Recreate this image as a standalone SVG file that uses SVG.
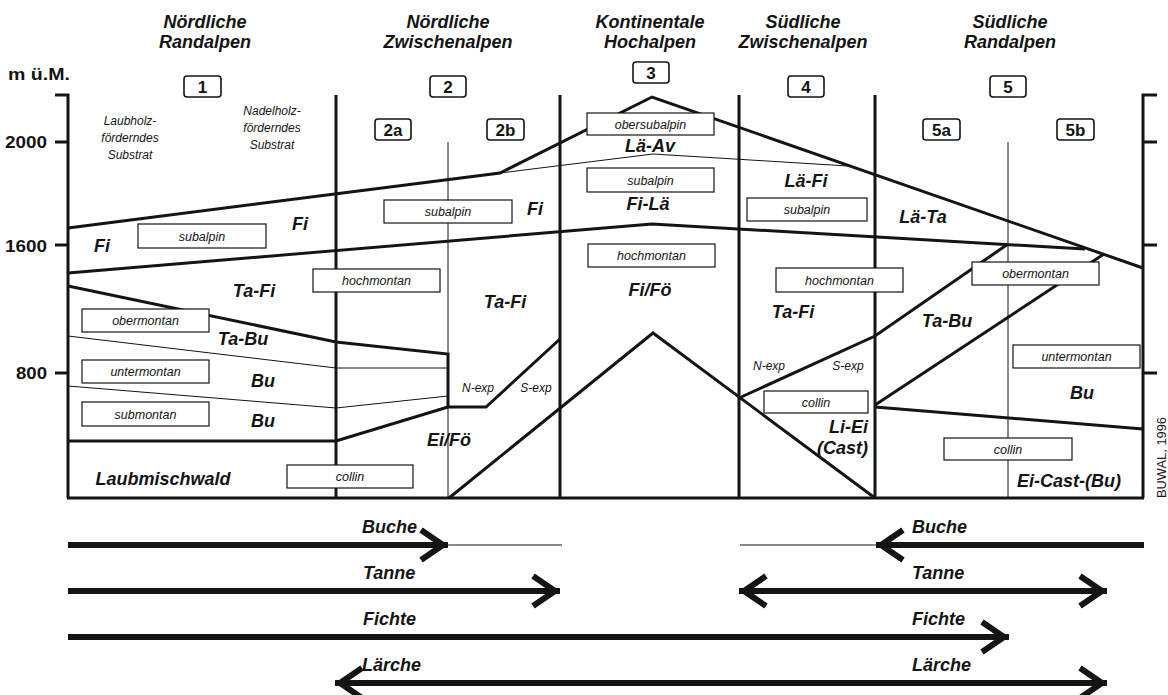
<svg xmlns="http://www.w3.org/2000/svg" width="1168" height="695" viewBox="0 0 1168 695">
<style>
.thick{fill:none;stroke:#141414;stroke-width:3;stroke-linejoin:miter}
.thin{fill:none;stroke:#141414;stroke-width:1}
.box{fill:#fff;stroke:#141414;stroke-width:1.2}
.nbox{fill:#fff;stroke:#141414;stroke-width:1.6}
.bt{font-family:"Liberation Sans",Arial,sans-serif;font-style:italic;font-size:12.5px;text-anchor:middle;fill:#141414}
.sm{font-family:"Liberation Sans",Arial,sans-serif;font-style:italic;font-size:12px;text-anchor:middle;fill:#141414}
.nt{font-family:"Liberation Sans",Arial,sans-serif;font-weight:bold;font-size:17px;text-anchor:middle;fill:#141414}
.lab{font-family:"Liberation Sans",Arial,sans-serif;font-weight:bold;font-style:italic;font-size:18px;text-anchor:middle;fill:#141414}
.ax{font-family:"Liberation Sans",Arial,sans-serif;font-weight:bold;font-size:16px;text-anchor:end;fill:#141414}
.end{text-anchor:end}
.st{text-anchor:start}
.arr{fill:none;stroke:#141414;stroke-width:6}
.arrthin{fill:none;stroke:#141414;stroke-width:1}
</style>
<defs>
<marker id="ah" markerUnits="userSpaceOnUse" markerWidth="40" markerHeight="40" viewBox="-34 -20 40 40" refX="0" refY="0" orient="auto-start-reverse" overflow="visible">
<path d="M-27,-15 L-5,0 L-27,15" fill="none" stroke="#141414" stroke-width="6"/>
</marker>
</defs>
<rect width="1168" height="695" fill="#fff"/>

<g id="headers">
<text class="lab" x="205" y="28">Nördliche</text>
<text class="lab" x="205" y="48">Randalpen</text>
<text class="lab" x="448" y="28">Nördliche</text>
<text class="lab" x="448" y="48">Zwischenalpen</text>
<text class="lab" x="650" y="28">Kontinentale</text>
<text class="lab" x="650" y="48">Hochalpen</text>
<text class="lab" x="803" y="28">Südliche</text>
<text class="lab" x="803" y="48">Zwischenalpen</text>
<text class="lab" x="1010" y="28">Südliche</text>
<text class="lab" x="1010" y="48">Randalpen</text>
</g>

<g id="axes">
<text class="ax" style="text-anchor:start" x="8" y="80" textLength="62" lengthAdjust="spacingAndGlyphs">m ü.M.</text>
<text class="ax" x="47" y="148" textLength="42" lengthAdjust="spacingAndGlyphs">2000</text>
<text class="ax" x="47" y="252" textLength="42" lengthAdjust="spacingAndGlyphs">1600</text>
<text class="ax" x="47" y="379" textLength="31" lengthAdjust="spacingAndGlyphs">800</text>
<path class="thick" d="M55,95 H68 V498 M55,142 H68 M55,245 H68 M55,373 H68"/>
<path class="thick" d="M1157,95 H1143 V498 M1143,142 H1157 M1143,245 H1157 M1143,373 H1157"/>
<path class="thick" d="M67,498 H1144" stroke-width="3.5"/>
<text font-family="Liberation Sans, Arial, sans-serif" font-size="12.5" fill="#141414" transform="translate(1166,498) rotate(-90)" textLength="81" lengthAdjust="spacingAndGlyphs">BUWAL, 1996</text>
</g>

<g id="zones">
<path class="thick" d="M336,95 V498 M560,95 V498 M739,95 V498 M875,95 V498"/>
<path class="thin" d="M448,142 V498 M1008,142 V498"/>
<path class="thick" d="M68,228 L500,173 L652,97 L1143,268"/>
<path class="thin" d="M500,173 L653,154 L848,166"/>
<path class="thick" d="M68,273 L652,224 L1085,249"/>
<path class="thick" d="M68,286 L336,342 L448,354 L448,407 L486,407 L560,339"/>
<path class="thin" d="M68,336 L336,368 L448,368"/>
<path class="thin" d="M68,386 L336,408 L448,396"/>
<path class="thick" d="M68,441 L336,441 L448,407"/>
<path class="thick" d="M449,498 L653,333 L875,498"/>
<path class="thick" d="M739,398 L875,336 L1008,244"/>
<path class="thick" d="M875,405 L1104,254"/>
<path class="thick" d="M875,407 L1143,429"/>
</g>

<g id="region-numbers">
<g id="n1"><rect class="nbox" x="184" y="76" width="37" height="21" rx="3"/><text class="nt" x="202.5" y="93">1</text></g>
<g id="n2"><rect class="nbox" x="430" y="76" width="36" height="21" rx="3"/><text class="nt" x="448" y="93">2</text></g>
<g id="n3"><rect class="nbox" x="633" y="62" width="36" height="21" rx="3"/><text class="nt" x="651" y="79">3</text></g>
<g id="n4"><rect class="nbox" x="788" y="76" width="36" height="21" rx="3"/><text class="nt" x="806" y="93">4</text></g>
<g id="n5"><rect class="nbox" x="990" y="76" width="36" height="21" rx="3"/><text class="nt" x="1008" y="93">5</text></g>
<g id="n2a"><rect class="nbox" x="375" y="119" width="36" height="21" rx="3"/><text class="nt" x="393" y="136">2a</text></g>
<g id="n2b"><rect class="nbox" x="487" y="119" width="37" height="21" rx="3"/><text class="nt" x="505.5" y="136">2b</text></g>
<g id="n5a"><rect class="nbox" x="923" y="119" width="37" height="21" rx="3"/><text class="nt" x="941.5" y="136">5a</text></g>
<g id="n5b"><rect class="nbox" x="1057" y="119" width="37" height="21" rx="3"/><text class="nt" x="1075.5" y="136">5b</text></g>
</g>

<g id="belts">
<g id="b1-subalpin"><rect class="box" x="138" y="224" width="128" height="24"/><text class="bt" x="202" y="241">subalpin</text></g>
<g id="b1-obermontan"><rect class="box" x="82" y="309" width="127" height="23"/><text class="bt" x="145.5" y="325">obermontan</text></g>
<g id="b1-untermontan"><rect class="box" x="82" y="360" width="127" height="23"/><text class="bt" x="145.5" y="376">untermontan</text></g>
<g id="b1-submontan"><rect class="box" x="82" y="402" width="127" height="24"/><text class="bt" x="145.5" y="419">submontan</text></g>
<g id="b1-collin"><rect class="box" x="287" y="465" width="126" height="23"/><text class="bt" x="350" y="481">collin</text></g>
<g id="b2-hochmontan"><rect class="box" x="313" y="269" width="127" height="23"/><text class="bt" x="376.5" y="285">hochmontan</text></g>
<g id="b2-subalpin"><rect class="box" x="384" y="200" width="128" height="23"/><text class="bt" x="448" y="216">subalpin</text></g>
<g id="b3-obersubalpin"><rect class="box" x="587" y="113" width="127" height="22"/><text class="bt" x="650.5" y="129">obersubalpin</text></g>
<g id="b3-subalpin"><rect class="box" x="587" y="168" width="127" height="24"/><text class="bt" x="650.5" y="185">subalpin</text></g>
<g id="b3-hochmontan"><rect class="box" x="588" y="244" width="127" height="23"/><text class="bt" x="651.5" y="260">hochmontan</text></g>
<g id="b4-subalpin"><rect class="box" x="747" y="198" width="120" height="23"/><text class="bt" x="807" y="214">subalpin</text></g>
<g id="b4-hochmontan"><rect class="box" x="776" y="268" width="127" height="24"/><text class="bt" x="839.5" y="285">hochmontan</text></g>
<g id="b4-collin"><rect class="box" x="764" y="391" width="104" height="22"/><text class="bt" x="816" y="407">collin</text></g>
<g id="b5-obermontan"><rect class="box" x="972" y="262" width="127" height="23"/><text class="bt" x="1035.5" y="278">obermontan</text></g>
<g id="b5-untermontan"><rect class="box" x="1013" y="345" width="127" height="23"/><text class="bt" x="1076.5" y="361">untermontan</text></g>
<g id="b5-collin"><rect class="box" x="944" y="438" width="128" height="22"/><text class="bt" x="1008" y="454">collin</text></g>
</g>

<g id="labels">
<text class="sm" x="130" y="125">Laubholz-</text>
<text class="sm" x="130" y="142">förderndes</text>
<text class="sm" x="130" y="159">Substrat</text>
<text class="sm" x="272" y="115">Nadelholz-</text>
<text class="sm" x="272" y="132">förderndes</text>
<text class="sm" x="272" y="149">Substrat</text>
<text class="lab" x="102" y="252">Fi</text>
<text class="lab" x="300" y="230">Fi</text>
<text class="lab" x="254" y="297">Ta-Fi</text>
<text class="lab" x="243" y="345">Ta-Bu</text>
<text class="lab" x="263" y="387">Bu</text>
<text class="lab" x="263" y="427">Bu</text>
<text class="lab" x="163" y="485">Laubmischwald</text>
<text class="lab" x="535" y="215">Fi</text>
<text class="lab" x="505" y="308">Ta-Fi</text>
<text class="sm" x="478" y="392">N-exp</text>
<text class="sm" x="536" y="392">S-exp</text>
<text class="lab" x="449" y="446">Ei/Fö</text>
<text class="lab" x="650" y="152">Lä-Av</text>
<text class="lab" x="648" y="210">Fi-Lä</text>
<text class="lab" x="650" y="296">Fi/Fö</text>
<text class="lab" x="806" y="187">Lä-Fi</text>
<text class="lab" x="793" y="318">Ta-Fi</text>
<text class="sm" x="769" y="370">N-exp</text>
<text class="sm" x="848" y="370">S-exp</text>
<text class="lab end" x="868" y="433">Li-Ei</text>
<text class="lab end" x="868" y="454">(Cast)</text>
<text class="lab" x="923" y="223">Lä-Ta</text>
<text class="lab" x="947" y="327">Ta-Bu</text>
<text class="lab" x="1082" y="399">Bu</text>
<text class="lab" x="1069" y="487">Ei-Cast-(Bu)</text>
</g>

<g id="connectors">
<path class="arr" d="M68,545 H448" marker-end="url(#ah)"/>
<path class="arrthin" d="M448,545 H562"/>
<path class="arrthin" d="M740,545 H876"/>
<path class="arr" d="M1144,545 H876" marker-end="url(#ah)"/>
<path class="arr" d="M68,591 H560" marker-end="url(#ah)"/>
<path class="arr" d="M739,591 H1107" marker-start="url(#ah)" marker-end="url(#ah)"/>
<path class="arr" d="M68,637 H1009" marker-end="url(#ah)"/>
<path class="arr" d="M335,683 H1107" marker-start="url(#ah)" marker-end="url(#ah)"/>
</g>

<g id="arrow-labels">
<text class="lab st" x="362" y="533">Buche</text>
<text class="lab st" x="912" y="533">Buche</text>
<text class="lab st" x="363" y="579">Tanne</text>
<text class="lab st" x="912" y="579">Tanne</text>
<text class="lab st" x="363" y="625">Fichte</text>
<text class="lab st" x="912" y="625">Fichte</text>
<text class="lab st" x="362" y="671">Lärche</text>
<text class="lab st" x="912" y="671">Lärche</text>
</g>
</svg>
